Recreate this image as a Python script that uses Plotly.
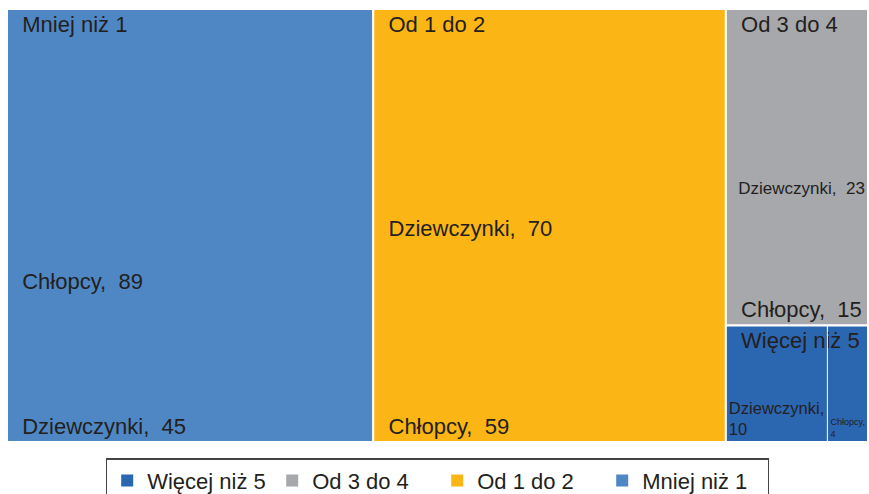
import plotly.graph_objects as go

groups = ["Mniej niż 1", "Od 1 do 2", "Od 3 do 4", "Więcej niż 5"]
girls = [45, 70, 23, 10]
boys = [89, 59, 15, 4]
group_colors = ["#4F87C5", "#FBB515", "#A7A8AB", "#2B66B1"]
legend_order = ["Więcej niż 5", "Od 3 do 4", "Od 1 do 2", "Mniej niż 1"]
wrap_groups = ["Więcej niż 5"]

FONT = "Liberation Sans, Arial, sans-serif"
TXT = "#231F20"
NB = "\u00a0\u00a0"
PAD = dict(t=0, l=0, r=0, b=0)

totals = [d + b for d, b in zip(girls, boys)]

# layer 1: the four groups (colours + group labels at top left)
fig = go.Figure()
fig.add_trace(go.Treemap(
    ids=groups, labels=groups, parents=[""] * len(groups), values=totals,
    branchvalues="total", sort=True,
    marker=dict(colors=group_colors, line=dict(color="white", width=2), pad=PAD),
    texttemplate=NB + "%{label}", textposition="top left",
    textfont=dict(family=FONT, size=22, color=TXT),
    tiling=dict(packing="squarify", pad=0),
    pathbar=dict(visible=False), hoverinfo="skip",
    domain=dict(x=[0, 1], y=[0, 1]),
))

# layer 2: girls / boys inside each group (transparent, labels at bottom left)
ids, labels, parents, values, templates, lw, tcol = [], [], [], [], [], [], []
for g, d, b in zip(groups, girls, boys):
    ids.append(g); labels.append(g); parents.append(""); values.append(d + b)
    templates.append("%{label}"); lw.append(0); tcol.append("rgba(0,0,0,0)")
    for name, v in (("Chłopcy", b), ("Dziewczynki", d)):
        ids.append(g + "/" + name); labels.append(name); parents.append(g)
        values.append(v); tcol.append(TXT)
        if g in wrap_groups:
            templates.append("%{label},<br>%{value}")
            lw.append(1 if name == "Chłopcy" else 0)
        else:
            templates.append(NB + "%{label},  %{value}")
            lw.append(0)

fig.add_trace(go.Treemap(
    ids=ids, labels=labels, parents=parents, values=values,
    branchvalues="total", sort=True,
    marker=dict(colors=["rgba(0,0,0,0)"] * len(ids),
                line=dict(color="white", width=lw), pad=PAD),
    texttemplate=templates, textposition="bottom left",
    textfont=dict(family=FONT, size=22, color=tcol),
    tiling=dict(packing="squarify", pad=0),
    pathbar=dict(visible=False), hoverinfo="label+value",
    domain=dict(x=[0, 1], y=[0, 1]),
))

cmap = dict(zip(groups, group_colors))
for g in legend_order:
    fig.add_trace(go.Scatter(x=[None], y=[None], mode="markers", name=g,
                             marker=dict(symbol="square", size=16, color=cmap[g])))

fig.update_layout(
    width=869, height=494,
    margin=dict(l=7, r=1, t=9, b=52, autoexpand=False),
    paper_bgcolor="white", plot_bgcolor="white",
    xaxis=dict(visible=False), yaxis=dict(visible=False),
    showlegend=True,
    legend=dict(orientation="h", x=0.5, xanchor="center",
                yref="container", y=0.072, yanchor="top",
                bordercolor="#444444", borderwidth=1.2,
                entrywidth=120, entrywidthmode="pixels",
                font=dict(family=FONT, size=22, color=TXT),
                itemsizing="constant"),
)
fig.write_html("out.html", config={"displayModeBar": False},
               post_script="document.body.style.margin='0';")
